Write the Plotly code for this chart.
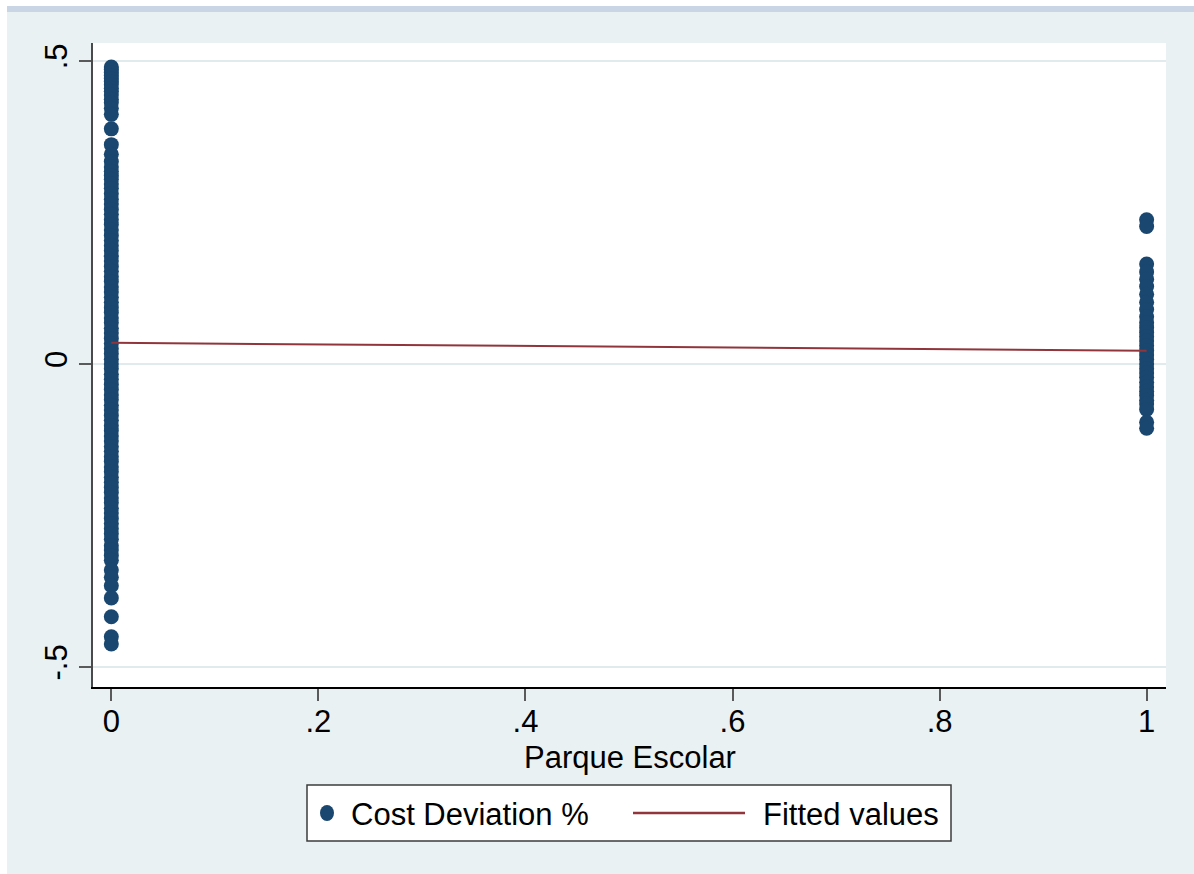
import plotly.graph_objects as go

# Cost deviation (%) for projects outside the Parque Escolar programme (x = 0)
cost_dev_other = [
    0.490, 0.486, 0.481, 0.476, 0.471, 0.466, 0.461, 0.455, 0.450, 0.444,
    0.437, 0.431, 0.422, 0.412, 0.388, 0.362, 0.346, 0.334, 0.325, 0.318,
    0.311, 0.305, 0.297, 0.290, 0.281, 0.272, 0.264, 0.255, 0.247, 0.238,
    0.230, 0.221, 0.212, 0.204, 0.195, 0.187, 0.178, 0.170, 0.161, 0.153,
    0.144, 0.136, 0.127, 0.119, 0.110, 0.102, 0.093, 0.085, 0.076, 0.068,
    0.059, 0.051, 0.042, 0.034, 0.025, 0.017, 0.008, 0.000, -0.008, -0.017,
    -0.025, -0.034, -0.042, -0.051, -0.059, -0.068, -0.076, -0.085, -0.093,
    -0.102, -0.110, -0.119, -0.127, -0.136, -0.144, -0.153, -0.161, -0.170,
    -0.178, -0.187, -0.195, -0.204, -0.212, -0.221, -0.229, -0.238, -0.246,
    -0.255, -0.263, -0.272, -0.280, -0.289, -0.300, -0.307, -0.316, -0.324,
    -0.340, -0.352, -0.366, -0.386, -0.417, -0.450, -0.462,
]

# Cost deviation (%) for Parque Escolar projects (x = 1)
cost_dev_pe = [
    0.238, 0.227, 0.165, 0.152, 0.140, 0.128, 0.115, 0.102, 0.090, 0.078,
    0.068, 0.060, 0.052, 0.045, 0.038, 0.030, 0.022, 0.015, 0.008, 0.000,
    -0.008, -0.015, -0.022, -0.030, -0.038, -0.045, -0.052, -0.060, -0.066,
    -0.075, -0.096, -0.106,
]

# Linear fit endpoints
fit_x = [0, 1]
fit_y = [0.035, 0.022]

x_ticks = [0, 0.2, 0.4, 0.6, 0.8, 1]
x_tick_text = ["0", ".2", ".4", ".6", ".8", "1"]
y_ticks = [-0.5, 0, 0.5]
y_tick_text = ["-.5", "0", ".5"]

x_title = "Parque Escolar"
legend_labels = ["Cost Deviation %", "Fitted values"]

NAVY = "#1A476F"
MAROON = "#90353B"
BG = "#EAF1F3"
GRID = "#E1EBEE"
FONT = "Arial, Liberation Sans, sans-serif"
FS = 31

W, H = 1194, 874
ML, MR, MT, MB = 93, 28, 43, 187
PW, PH = W - ML - MR, H - MT - MB


def px_x(p):
    return (p - ML) / PW


def px_y(p):
    return (H - MB - p) / PH


xs = [0] * len(cost_dev_other) + [1] * len(cost_dev_pe)
ys = cost_dev_other + cost_dev_pe

fig = go.Figure()
fig.add_trace(go.Scatter(
    x=xs, y=ys, mode="markers", name=legend_labels[0],
    marker=dict(symbol="circle", size=15, color=NAVY, line=dict(width=0)),
    showlegend=False,
))
fig.add_trace(go.Scatter(
    x=fit_x, y=fit_y, mode="lines", name=legend_labels[1],
    line=dict(color=MAROON, width=2),
    showlegend=False,
))

LEG_TOP, LEG_BOT = 785, 841
LEG_MID = (LEG_TOP + LEG_BOT) / 2

shapes = [
    # white outer edge and thin header band
    dict(type="rect", xref="paper", yref="paper", x0=px_x(0), x1=px_x(W),
         y0=px_y(6), y1=px_y(0), fillcolor="white", line=dict(width=0), layer="above"),
    dict(type="rect", xref="paper", yref="paper", x0=px_x(0), x1=px_x(7),
         y0=px_y(H), y1=px_y(0), fillcolor="white", line=dict(width=0), layer="above"),
    dict(type="rect", xref="paper", yref="paper", x0=px_x(7), x1=px_x(W),
         y0=px_y(12), y1=px_y(6), fillcolor="#C9D4E5", line=dict(width=0), layer="above"),
    # legend box
    dict(type="rect", xref="paper", yref="paper", x0=px_x(307), x1=px_x(951),
         y0=px_y(LEG_BOT), y1=px_y(LEG_TOP), fillcolor="white",
         line=dict(color="#3C3C3C", width=1.5), layer="above"),
    dict(type="circle", xref="paper", yref="paper", x0=px_x(320), x1=px_x(334),
         y0=px_y(LEG_MID + 8), y1=px_y(LEG_MID - 8), fillcolor=NAVY,
         line=dict(width=0), layer="above"),
    dict(type="line", xref="paper", yref="paper", x0=px_x(633), x1=px_x(745),
         y0=px_y(LEG_MID), y1=px_y(LEG_MID), line=dict(color=MAROON, width=2.5),
         layer="above"),
]

annotations = [
    dict(text=legend_labels[0], xref="paper", yref="paper", x=px_x(349),
         y=px_y(LEG_MID + 1), xanchor="left", yanchor="middle", showarrow=False,
         font=dict(family=FONT, size=FS, color="black")),
    dict(text=legend_labels[1], xref="paper", yref="paper", x=px_x(761),
         y=px_y(LEG_MID + 1), xanchor="left", yanchor="middle", showarrow=False,
         font=dict(family=FONT, size=FS, color="black")),
    dict(text=x_title, xref="paper", yref="paper", x=0.5, y=px_y(757),
         xanchor="center", yanchor="middle", showarrow=False,
         font=dict(family=FONT, size=FS, color="black")),
]

fig.update_layout(
    width=W, height=H,
    margin=dict(l=ML, r=MR, t=MT, b=MB, pad=0),
    paper_bgcolor=BG, plot_bgcolor="white",
    font=dict(family=FONT, size=FS, color="black"),
    shapes=shapes, annotations=annotations,
    showlegend=False,
)
fig.update_xaxes(
    range=[-0.0177, 1.0187], tickvals=x_ticks, ticktext=x_tick_text,
    showgrid=False, zeroline=False,
    showline=True, linecolor="black", linewidth=2,
    ticks="outside", ticklen=12, tickwidth=2, tickcolor="#5A5A5A",
    ticklabelstandoff=-6,
    tickfont=dict(family=FONT, size=FS, color="black"),
)
fig.update_yaxes(
    range=[-0.533, 0.5297], tickvals=y_ticks, ticktext=y_tick_text,
    showgrid=True, gridcolor=GRID, gridwidth=2, zeroline=False,
    showline=True, linecolor="#4A4A4A", linewidth=2,
    ticks="outside", ticklen=12, tickwidth=2, tickcolor="#5A5A5A",
    tickangle=-90,
    tickfont=dict(family=FONT, size=FS, color="black"),
)

fig.write_html("out.html")
